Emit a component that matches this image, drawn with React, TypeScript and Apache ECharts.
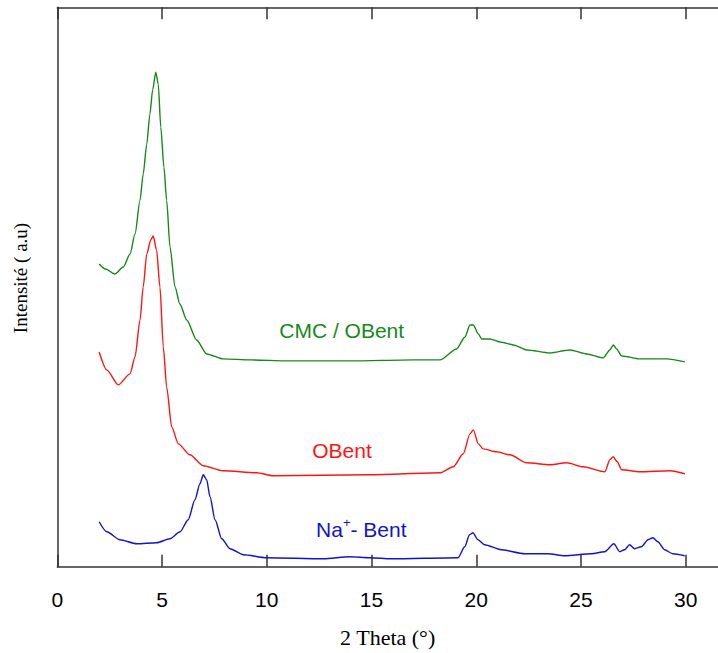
import React, { useEffect, useRef } from "react";
import * as echarts from "echarts";

// 2θ (°) and intensity (a.u.)
const cmcObent: [number, number][] = [
  [2.0, 303], [2.3, 298], [2.75, 293], [3.15, 300], [3.47, 313], [3.71, 333], [3.95, 367],
  [4.1, 393], [4.27, 423], [4.42, 453], [4.55, 477], [4.7, 495], [4.82, 483], [4.94, 440],
  [5.09, 400], [5.22, 367], [5.38, 320], [5.62, 280], [5.85, 263], [6.18, 247], [6.65, 227],
  [7.13, 213], [7.92, 208], [9.2, 207], [11, 206], [14, 206], [17, 207], [18.27, 207],
  [19.06, 218], [19.46, 230], [19.7, 242], [19.86, 242], [20.1, 233], [20.26, 228],
  [20.65, 228], [21.13, 225], [21.77, 222], [22.41, 217], [23.52, 214], [24.47, 217],
  [25.27, 213], [26.06, 209], [26.38, 217], [26.54, 222], [26.7, 218], [26.94, 211],
  [27.81, 208], [29.09, 208], [29.96, 205],
];

const obent: [number, number][] = [
  [2.0, 215], [2.36, 197], [2.91, 182], [3.47, 193], [3.71, 210], [3.95, 247], [4.1, 280],
  [4.27, 313], [4.46, 327], [4.58, 331], [4.74, 317], [4.9, 280], [5.06, 220], [5.22, 180],
  [5.46, 140], [5.78, 123], [6.33, 112], [6.97, 101], [7.92, 96], [9.52, 94], [10.31, 91],
  [14.93, 92], [18.27, 94], [18.9, 100], [19.38, 113], [19.7, 133], [19.86, 137],
  [20.1, 123], [20.33, 118], [20.97, 115], [21.61, 112], [22.41, 104], [23.52, 102],
  [24.32, 104], [25.11, 100], [26.14, 95], [26.38, 107], [26.54, 110], [26.73, 105],
  [26.94, 97], [27.81, 95], [29.25, 96], [29.96, 93],
];

const naBent: [number, number][] = [
  [2.0, 45], [2.36, 35], [2.99, 27], [3.79, 23], [4.74, 24], [5.38, 28], [5.86, 35],
  [6.25, 47], [6.57, 67], [6.81, 83], [6.97, 92], [7.13, 87], [7.29, 70], [7.53, 47],
  [7.85, 28], [8.24, 18], [8.88, 12], [9.99, 9], [12.7, 8], [13.97, 10], [14.93, 9],
  [15.94, 8], [19.13, 9], [19.45, 20], [19.68, 32], [19.84, 34], [20.08, 27], [20.4, 22],
  [21.19, 17], [22.31, 13], [23.42, 13], [24.22, 11], [25.49, 13], [26.13, 15], [26.57, 23],
  [26.85, 15], [27.08, 17], [27.32, 22], [27.56, 18], [27.88, 20], [28.2, 27], [28.43, 29],
  [28.67, 25], [28.99, 17], [29.38, 13], [29.95, 11],
];

const xTicks = [0, 5, 10, 15, 20, 25, 30];
const seriesNames = ["CMC / OBent", "OBent", "Na+- Bent"];
const xTitle = "2 Theta (°)";
const yTitle = "Intensité ( a.u)";

const GREEN = "#17891a";
const RED = "#ff1414";
const BLUE = "#1212d2";

export default function App() {
  const ref = useRef<HTMLDivElement>(null);

  useEffect(() => {
    document.body.style.margin = "0";
    if (!ref.current) return;
    const chart = echarts.init(ref.current, undefined, { renderer: "svg" });
    const axisLineStyle = { color: "#333", width: 1.5 };
    const sans = "Liberation Sans, Arial, sans-serif";
    const serif = "Liberation Serif, Times New Roman, serif";
    chart.setOption({
      animation: false,
      backgroundColor: "#fff",
      grid: {
        left: 57.3,
        top: 7.3,
        right: 0,
        bottom: 86.3,
        containLabel: false,
        outerBoundsMode: "none",
      },
      xAxis: [
        {
          type: "value",
          position: "bottom",
          min: 0,
          max: 31.54,
          interval: 5,
          name: xTitle,
          nameLocation: "middle",
          nameGap: 60,
          nameTextStyle: { fontFamily: serif, fontSize: 22, color: "#000" },
          axisLine: { show: true, lineStyle: axisLineStyle },
          axisTick: { show: true, inside: true, length: 12, lineStyle: axisLineStyle, customValues: xTicks },
          axisLabel: { fontFamily: sans, fontSize: 21, color: "#000", margin: 22, customValues: xTicks },
          splitLine: { show: false },
        },
        {
          type: "value",
          position: "top",
          min: 0,
          max: 31.54,
          interval: 5,
          axisLine: { show: true, lineStyle: axisLineStyle },
          axisTick: { show: true, inside: true, length: 12, lineStyle: axisLineStyle, customValues: xTicks },
          axisLabel: { show: false },
          splitLine: { show: false },
        },
      ],
      yAxis: {
        type: "value",
        min: 0,
        max: 560,
        name: yTitle,
        nameLocation: "middle",
        nameGap: 27,
        nameTextStyle: { fontFamily: serif, fontSize: 19, color: "#000", padding: [0, 0, 0, 18] },
        axisLine: { show: true, lineStyle: axisLineStyle },
        axisTick: { show: false },
        axisLabel: { show: false },
        splitLine: { show: false },
      },
      series: [
        { name: seriesNames[0], type: "line", data: cmcObent, color: GREEN },
        { name: seriesNames[1], type: "line", data: obent, color: RED },
        { name: seriesNames[2], type: "line", data: naBent, color: BLUE },
      ].map((s) => ({
        ...s,
        showSymbol: false,
        smooth: 0.25,
        smoothMonotone: "x",
        lineStyle: { width: 1.4, color: s.color },
        xAxisIndex: 0,
      })),
      graphic: [
        {
          type: "text",
          x: 341.7,
          y: 330.7,
          style: {
            text: seriesNames[0],
            fill: GREEN,
            font: `21px ${sans}`,
            align: "center",
            verticalAlign: "middle",
          },
        },
        {
          type: "text",
          x: 342,
          y: 450,
          style: {
            text: seriesNames[1],
            fill: RED,
            font: `21px ${sans}`,
            align: "center",
            verticalAlign: "middle",
          },
        },
        {
          type: "text",
          x: 361.3,
          y: 528.3,
          style: {
            text: "{a|Na}{s|+}{a|- Bent}",
            align: "center",
            verticalAlign: "middle",
            rich: {
              a: { fontFamily: sans, fontSize: 21, fill: BLUE, lineHeight: 24, verticalAlign: "bottom" },
              s: { fontFamily: sans, fontSize: 13, fill: BLUE, lineHeight: 13, verticalAlign: "top" },
            },
          },
        },
      ],
    });
    return () => chart.dispose();
  }, []);

  return <div ref={ref} style={{ width: 718, height: 653 }} />;
}
